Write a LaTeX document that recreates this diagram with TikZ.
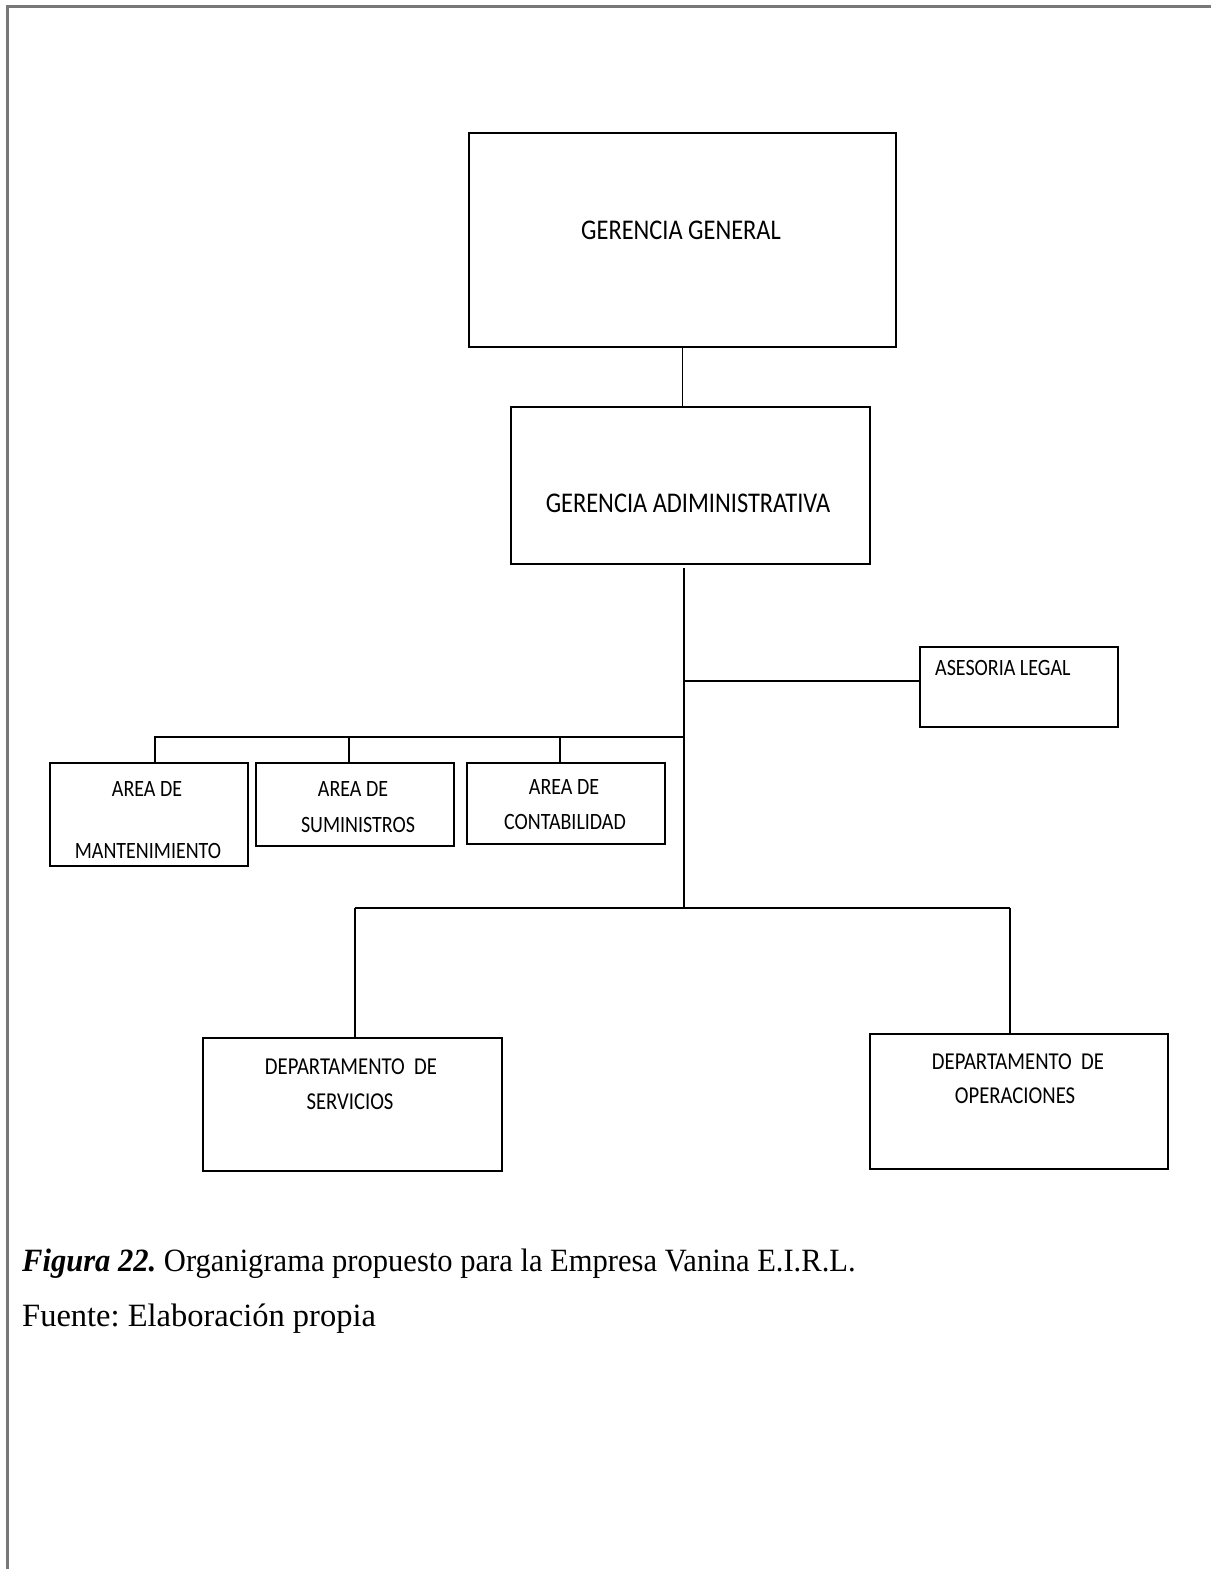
\documentclass[tikz,border=0pt]{standalone}
\usepackage{fontspec}
\setmainfont{Liberation Serif}
\newfontfamily\boxfont{Carlito}
\definecolor{framegray}{HTML}{787878}
% box labels are set slightly tall and narrow
\newcommand\tallcaps[1]{\scalebox{1}[1.17]{#1}}
\tikzset{
  orgbox/.style={draw=black, line width=1.8pt, inner sep=0pt, anchor=north west},
  link/.style={draw=black, line width=1.5pt},
  biglbl/.style={font=\boxfont\fontsize{24.4}{28}\selectfont, inner sep=0pt},
  smalllbl/.style={font=\boxfont\fontsize{20}{24}\selectfont, inner sep=0pt},
  deptlbl/.style={font=\boxfont\fontsize{20.7}{24}\selectfont, inner sep=0pt},
  captxt/.style={font=\fontsize{32.5}{39}\selectfont\frenchspacing, inner sep=0pt, anchor=base west},
}
\begin{document}
\begin{tikzpicture}[x=1pt, y=-1pt]
\useasboundingbox (0,0) rectangle (1211,1569);

% page frame (top and left edges only)
\draw[framegray, line width=2.2pt] (7.5,1569) -- (7.5,6.5) -- (1211,6.5);

% boxes
\node[orgbox, minimum width=427pt, minimum height=214pt] (gg) at (468,132) {};
\node[orgbox, minimum width=359pt, minimum height=157pt] (ga) at (510,406) {};
\node[orgbox, minimum width=198pt, minimum height=80pt]  (al) at (919,646) {};
\node[orgbox, minimum width=198pt, minimum height=103pt] (am) at (49,762) {};
\node[orgbox, minimum width=198pt, minimum height=83pt]  (as) at (255,762) {};
\node[orgbox, minimum width=198pt, minimum height=81pt]  (ac) at (466,762) {};
\node[orgbox, minimum width=299pt, minimum height=133pt] (ds) at (202,1037) {};
\node[orgbox, minimum width=298pt, minimum height=135pt] (dop) at (869,1033) {};

% labels
\node[biglbl] (ggt) at (681,230) {\tallcaps{GERENCIA GENERAL}};
\node[biglbl] (gat) at (688,503) {\tallcaps{GERENCIA ADIMINISTRATIVA}};
\node[smalllbl, anchor=west] (alt) at (935,668) {\tallcaps{ASESORIA LEGAL}};
\node[smalllbl] (amt1) at (147,789) {\tallcaps{AREA DE}};
\node[smalllbl] (amt2) at (148,851) {\tallcaps{MANTENIMIENTO}};
\node[smalllbl] (ast1) at (353,789) {\tallcaps{AREA DE}};
\node[smalllbl] (ast2) at (358,825) {\tallcaps{SUMINISTROS}};
\node[smalllbl] (act1) at (564,787) {\tallcaps{AREA DE}};
\node[smalllbl] (act2) at (565,822) {\tallcaps{CONTABILIDAD}};
\node[deptlbl] (dst1) at (351,1067) {\tallcaps{DEPARTAMENTO\ \ DE}};
\node[deptlbl] (dst2) at (350,1102) {\tallcaps{SERVICIOS}};
\node[deptlbl] (dot1) at (1018,1062) {\tallcaps{DEPARTAMENTO\ \ DE}};
\node[deptlbl] (dot2) at (1015,1096) {\tallcaps{OPERACIONES}};

% trunk and branch points
\coordinate (t0) at (684,568);
\coordinate (tj) at (684,681);
\coordinate (ta) at (684,737);
\coordinate (tb) at (684,908);
\coordinate (d1) at (155,737);
\coordinate (d2) at (349,737);
\coordinate (d3) at (560,737);
\coordinate (e1) at (355,908);
\coordinate (e2) at (1010,908);

% connectors
\draw[link] (gg.south) -- (gg.south |- ga.north);
\draw[link] (t0) -- (tb);
\draw[link] (tj) -- (tj -| al.west);
\draw[link] (ta) -- (d1) -- (d1 |- am.north);
\draw[link] (d2) -- (d2 |- as.north);
\draw[link] (d3) -- (d3 |- ac.north);
\draw[link] (e1) -- (e2);
\draw[link] (e1) -- (e1 |- ds.north);
\draw[link] (e2) -- (e2 |- dop.north);

% caption
\node[captxt] (cap) at (22,1271) {\scalebox{0.94}[1]{\textbf{\textit{Figura 22.}} Organigrama propuesto para la Empresa Vanina E.I.R.L.}};
\node[captxt] (src) at (22,1326) {Fuente: Elaboración propia};
\end{tikzpicture}
\end{document}
